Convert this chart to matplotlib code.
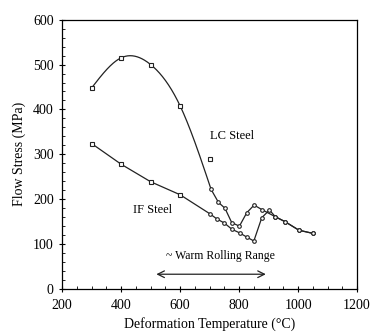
import numpy as np
import matplotlib
matplotlib.use("Agg")
import matplotlib.pyplot as plt
from matplotlib.ticker import MultipleLocator

plt.rcParams['font.family'] = ['Liberation Serif', 'DejaVu Serif']

# LC steel data (squares at low T, circles at high T)
lc_sq_T = [300, 400, 500, 600, 700]
lc_sq_S = [448, 515, 500, 408, 289]
lc_ci_T = [705, 730, 752, 775, 801, 826, 851, 877, 923, 956, 1003, 1050]
lc_ci_S = [222, 193, 180, 148, 140, 170, 187, 177, 161, 150, 131, 124]

# IF steel data
if_sq_T = [300, 400, 500, 600]
if_sq_S = [324, 278, 239, 210]
if_ci_T = [700, 725, 750, 776, 802, 828, 850, 877, 903, 923, 956, 1003, 1050]
if_ci_S = [168, 156, 147, 133, 125, 115, 107, 159, 176, 161, 150, 131, 124]


def natural_spline(x, y, n=200):
    x = np.asarray(x, float); y = np.asarray(y, float)
    k = len(x)
    h = np.diff(x)
    A = np.zeros((k, k)); b = np.zeros(k)
    A[0, 0] = A[-1, -1] = 1
    for i in range(1, k - 1):
        A[i, i - 1] = h[i - 1]
        A[i, i] = 2 * (h[i - 1] + h[i])
        A[i, i + 1] = h[i]
        b[i] = 3 * ((y[i + 1] - y[i]) / h[i] - (y[i] - y[i - 1]) / h[i - 1])
    c = np.linalg.solve(A, b)
    xs = np.linspace(x[0], x[-1], n)
    ys = np.empty_like(xs)
    for j, xv in enumerate(xs):
        i = min(np.searchsorted(x, xv, side='right') - 1, k - 2)
        dx = xv - x[i]
        bi = (y[i + 1] - y[i]) / h[i] - h[i] * (2 * c[i] + c[i + 1]) / 3
        di = (c[i + 1] - c[i]) / (3 * h[i])
        ys[j] = y[i] + bi * dx + c[i] * dx ** 2 + di * dx ** 3
    return xs, ys


fig = plt.figure(figsize=(3.70, 3.33), dpi=100)
ax = fig.add_axes([0.168, 0.132, 0.797, 0.809])

# LC line: smooth through squares (excluding the outlier) to first circle, straight afterwards
sx, sy = natural_spline(lc_sq_T[:4] + [lc_ci_T[0]], lc_sq_S[:4] + [lc_ci_S[0]])
lx = np.concatenate([sx, lc_ci_T[1:]])
ly = np.concatenate([sy, lc_ci_S[1:]])
ax.plot(lx, ly, color='#222222', lw=0.9)

ax.plot(if_sq_T + if_ci_T, if_sq_S + if_ci_S, color='#222222', lw=0.9)

mk = dict(markersize=2.6, markerfacecolor='white', markeredgecolor='#222222',
          markeredgewidth=0.8, linestyle='none')
ax.plot(lc_sq_T, lc_sq_S, marker='s', **mk)
ax.plot(lc_ci_T, lc_ci_S, marker='o', **mk)
ax.plot(if_sq_T, if_sq_S, marker='s', **mk)
ax.plot(if_ci_T, if_ci_S, marker='o', **mk)

ax.text(700, 340, 'LC Steel', fontsize=9, ha='left', va='center')
ax.text(440, 176, 'IF Steel', fontsize=9, ha='left', va='center')
ax.text(553, 73, '~ Warm Rolling Range', fontsize=8.5, ha='left', va='center')
ax.annotate('', xy=(900, 33), xytext=(510, 33),
            arrowprops=dict(arrowstyle='<->', color='#222222', lw=0.9,
                            mutation_scale=12))

ax.set_xlim(200, 1200)
ax.set_ylim(0, 600)
ax.xaxis.set_major_locator(MultipleLocator(200))
ax.xaxis.set_minor_locator(MultipleLocator(50))
ax.yaxis.set_major_locator(MultipleLocator(100))
ax.yaxis.set_minor_locator(MultipleLocator(20))
ax.tick_params(which='major', direction='inout', length=5, width=0.8, labelsize=10,
               top=False, right=False)
ax.tick_params(axis='x', which='major', pad=5)
ax.tick_params(which='minor', direction='in', length=2.5, width=0.6,
               top=False, right=False)
for s in ax.spines.values():
    s.set_linewidth(0.9)

ax.set_xlabel('Deformation Temperature (°C)', fontsize=10, labelpad=3)
ax.set_ylabel('Flow Stress (MPa)', fontsize=10, labelpad=5)

fig.savefig('out.png', dpi=100)
